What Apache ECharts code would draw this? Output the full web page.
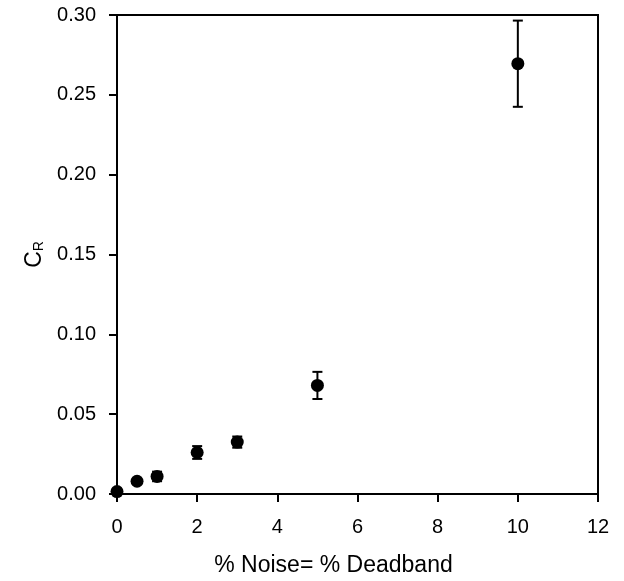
<!DOCTYPE html>
<html><head><meta charset="utf-8">
<script src="https://cdn.jsdelivr.net/npm/echarts@6/dist/echarts.min.js"></script>
<style>html,body{margin:0;padding:0;background:#fff}#c{width:624px;height:581px}</style>
</head><body><div id="c"></div>
<script>
var xValues = [0, 0.5, 1, 2, 3, 5, 10];
var yValues = [0.0015, 0.008, 0.011, 0.026, 0.0325, 0.068, 0.2695];
var yErrors = [0.0, 0.0, 0.003, 0.004, 0.0035, 0.0085, 0.027];
var xTicks = [0, 2, 4, 6, 8, 10, 12];
var yTicks = [0, 0.05, 0.10, 0.15, 0.20, 0.25, 0.30];

var pts = xValues.map(function(x, i){ return [x, yValues[i]]; });
var errs = xValues.map(function(x, i){ return [x, yValues[i] - yErrors[i], yValues[i] + yErrors[i]]; });

var chart = echarts.init(document.getElementById('c'));
var font = 'Liberation Sans, Arial, sans-serif';
chart.setOption({
  animation: false,
  grid: {left: 117, right: 26, top: 15, bottom: 87, show: true, borderColor: '#000', borderWidth: 2,
         containLabel: false, outerBoundsMode: 'none'},
  xAxis: {
    type: 'value', min: 0, max: 12, interval: 2,
    name: '% Noise= % Deadband', nameLocation: 'middle', nameGap: 60,
    nameTextStyle: {fontFamily: font, fontSize: 23, color: '#000', padding: [0, 48, 0, 0]},
    axisLine: {show: true, lineStyle: {color: '#000', width: 2}},
    axisTick: {show: true, inside: false, length: 8, lineStyle: {color: '#000', width: 2}},
    axisLabel: {fontFamily: font, fontSize: 20, color: '#000', margin: 23},
    splitLine: {show: false}
  },
  yAxis: {
    type: 'value', min: 0, max: 0.30, interval: 0.05,
    name: '{c|C}{s|R}', nameLocation: 'middle', nameGap: 66, nameRotate: 90,
    nameTextStyle: {rich: {
      c: {fontFamily: font, fontSize: 23, color: '#000'},
      s: {fontFamily: font, fontSize: 14, color: '#000', verticalAlign: 'bottom', padding: [10,0,0,0]}
    }},
    axisLine: {show: true, lineStyle: {color: '#000', width: 2}},
    axisTick: {show: true, inside: false, length: 8, lineStyle: {color: '#000', width: 2}},
    axisLabel: {fontFamily: font, fontSize: 20, color: '#000', margin: 21,
      formatter: function(v){ return v.toFixed(2); }},
    splitLine: {show: false}
  },
  series: [
    {
      type: 'custom',
      data: errs,
      renderItem: function(params, api){
        var x = api.value(0);
        var lo = api.coord([x, api.value(1)]);
        var hi = api.coord([x, api.value(2)]);
        if (Math.abs(hi[1]-lo[1]) < 1) return null;
        var hw = 5;
        var st = {stroke: '#000', lineWidth: 2};
        return {type: 'group', children: [
          {type: 'line', shape: {x1: lo[0], y1: lo[1], x2: hi[0], y2: hi[1]}, style: st},
          {type: 'line', shape: {x1: lo[0]-hw, y1: lo[1], x2: lo[0]+hw, y2: lo[1]}, style: st},
          {type: 'line', shape: {x1: hi[0]-hw, y1: hi[1], x2: hi[0]+hw, y2: hi[1]}, style: st}
        ]};
      },
      z: 2
    },
    {
      type: 'scatter', data: pts, symbol: 'circle', symbolSize: 13,
      itemStyle: {color: '#000', opacity: 1}, z: 3, clip: false
    }
  ]
});
</script></body></html>
